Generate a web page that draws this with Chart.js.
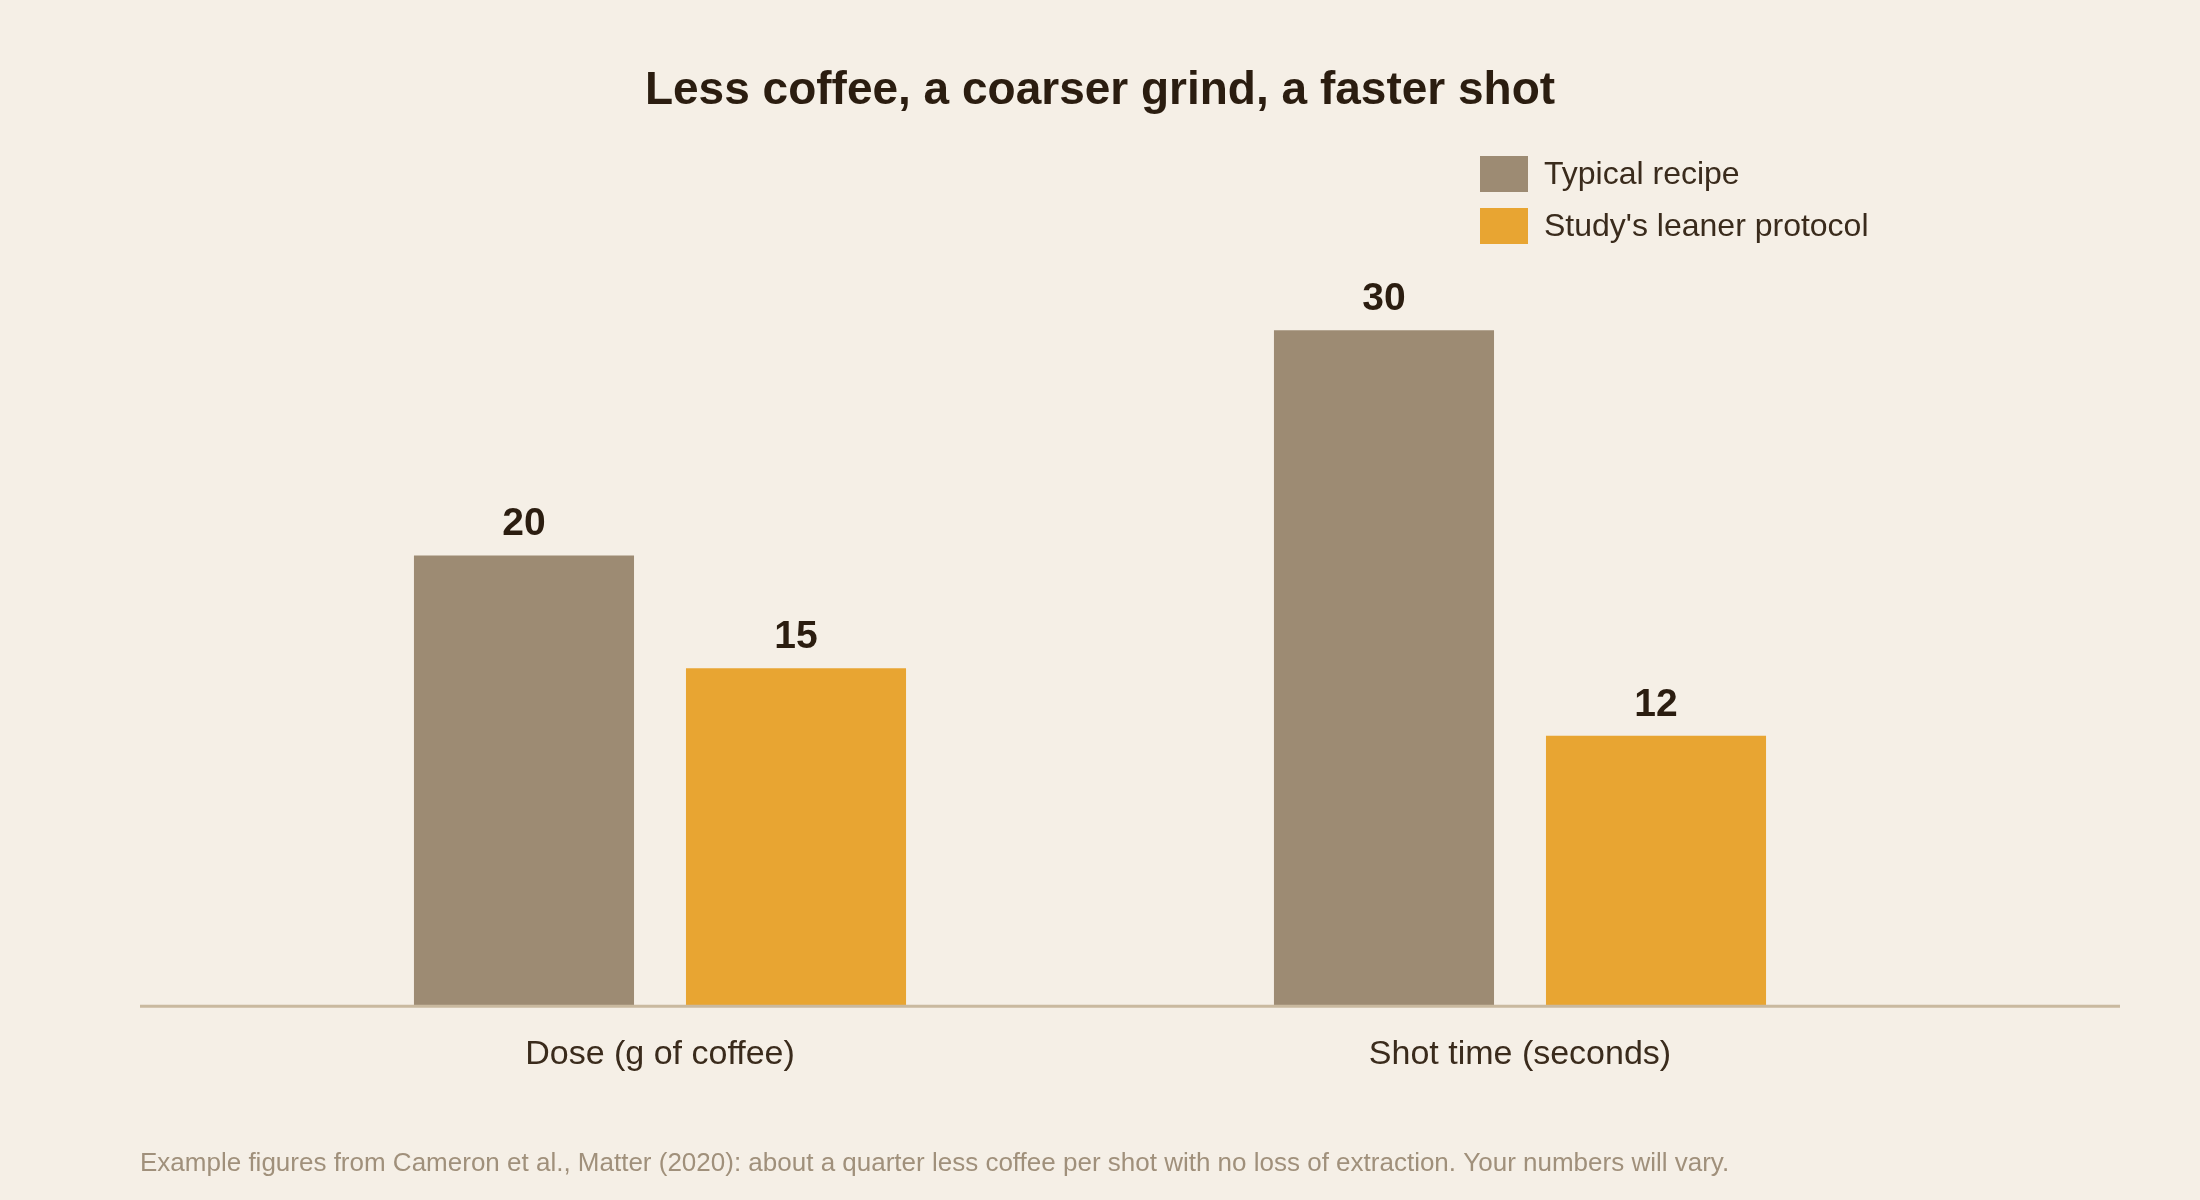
<!DOCTYPE html>
<html>
<head>
<meta charset="utf-8">
<title>Less coffee, a coarser grind, a faster shot</title>
<script src="https://cdn.jsdelivr.net/npm/chart.js@4.4.1/dist/chart.umd.min.js"></script>
<style>
    html, body { margin: 0; padding: 0; background: #f5efe6; }
    #contenedor { width: 2200px; height: 1200px; }
</style>
</head>
<body>
<div id="contenedor"><canvas id="espresso"></canvas></div>
<script>
const categorias = ['Dose (g of coffee)', 'Shot time (seconds)'];
const receta = [20, 30];
const protocolo = [15, 12];
const series = ['Typical recipe', "Study's leaner protocol"];
const titulo = 'Less coffee, a coarser grind, a faster shot';
const nota = 'Example figures from Cameron et al., Matter (2020): about a quarter less coffee per shot with no loss of extraction. Your numbers will vary.';

const fuente = '"Liberation Sans", Arial, Helvetica, sans-serif';
const fondo = '#f5efe6';

document.addEventListener('DOMContentLoaded', function () {
    grafico()
})

// fondo, linea base, etiquetas de valor, titulo, leyenda y nota
const adornos = {
    id: 'adornos',
    beforeDraw(chart) {
        const ctx = chart.ctx;
        ctx.save();
        ctx.fillStyle = fondo;
        ctx.fillRect(0, 0, chart.width, chart.height);
        ctx.restore();
    },
    afterDatasetsDraw(chart) {
        const ctx = chart.ctx;
        const y0 = chart.scales.y.getPixelForValue(0);
        ctx.save();
        ctx.strokeStyle = '#c9b99f';
        ctx.lineWidth = 3;
        ctx.beginPath();
        ctx.moveTo(140, y0);
        ctx.lineTo(2120, y0);
        ctx.stroke();

        ctx.fillStyle = '#2b1d10';
        ctx.font = 'bold 39px ' + fuente;
        ctx.textAlign = 'center';
        ctx.textBaseline = 'alphabetic';
        chart.data.datasets.forEach(function (ds, i) {
            chart.getDatasetMeta(i).data.forEach(function (barra, j) {
                ctx.fillText(ds.data[j], barra.x, barra.y - 20);
            });
        });
        ctx.restore();
    },
    afterDraw(chart) {
        const ctx = chart.ctx;
        ctx.save();
        ctx.textBaseline = 'middle';

        ctx.fillStyle = '#2b1d10';
        ctx.font = 'bold 46px ' + fuente;
        ctx.textAlign = 'center';
        ctx.fillText(titulo, chart.width / 2, 91);

        ctx.textAlign = 'left';
        ctx.font = '32px ' + fuente;
        chart.data.datasets.forEach(function (ds, i) {
            const y = 156 + i * 52;
            ctx.fillStyle = ds.backgroundColor;
            ctx.fillRect(1480, y, 48, 36);
            ctx.fillStyle = '#3a2b1c';
            ctx.fillText(ds.label, 1544, y + 19.5);
        });

        ctx.fillStyle = '#a0907b';
        ctx.font = '26px ' + fuente;
        ctx.fillText(nota, 140, 1164);
        ctx.restore();
    }
};

function grafico() {
    const ctx = document.getElementById('espresso');
    new Chart(ctx, {
        type: 'bar',
        data: {
            labels: categorias,
            datasets: [{
                label: series[0],
                data: receta,
                backgroundColor: '#9d8b73',
                borderWidth: 0
            }, {
                label: series[1],
                data: protocolo,
                backgroundColor: '#e8a532',
                borderWidth: 0
            }]
        },
        options: {
            responsive: true,
            maintainAspectRatio: false,
            animation: false,
            layout: {
                padding: { top: 240, left: 230, right: 250, bottom: 97 }
            },
            datasets: {
                bar: {
                    categoryPercentage: 0.6326,
                    barPercentage: 0.809
                }
            },
            plugins: {
                legend: { display: false },
                title: { display: false },
                tooltip: { enabled: false }
            },
            scales: {
                x: {
                    grid: { display: false, drawTicks: false },
                    border: { display: false },
                    ticks: {
                        padding: 28,
                        color: '#3a2b1c',
                        font: { family: fuente, size: 34 }
                    }
                },
                y: {
                    display: false,
                    min: 0,
                    max: 34
                }
            }
        },
        plugins: [adornos]
    });
}
</script>
</body>
</html>
